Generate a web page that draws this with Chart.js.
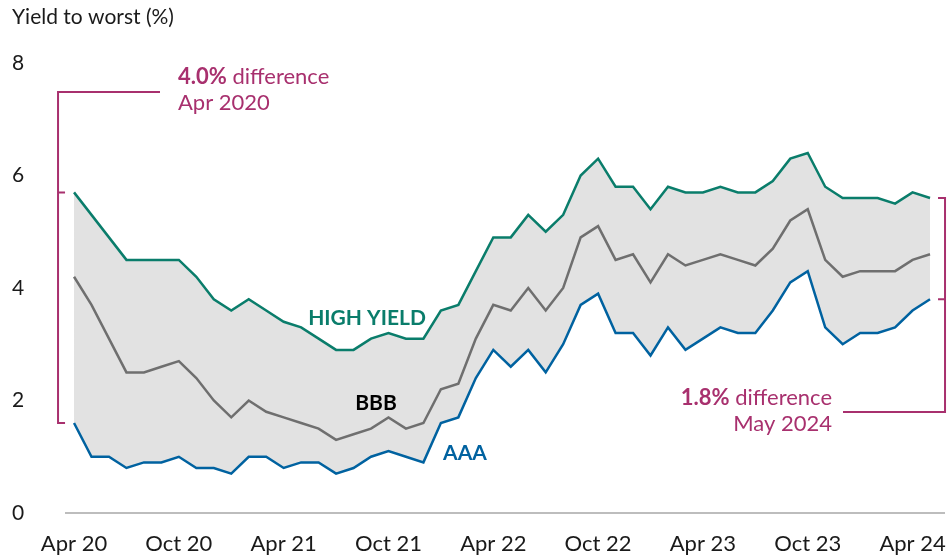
<!DOCTYPE html>
<html>
<head>
<meta charset="utf-8">
<script src="https://cdn.jsdelivr.net/npm/chart.js@4/dist/chart.umd.min.js"></script>
<style>
  html, body { margin: 0; padding: 0; background: #fff; }
  #wrap { width: 951px; height: 557px; position: relative; }
</style>
</head>
<body>
<div id="wrap"><canvas id="yieldChart"></canvas></div>
<script>
// Monthly observations, Apr 2020 - May 2024
const months = [
    'Apr 20', 'May 20', 'Jun 20', 'Jul 20', 'Aug 20', 'Sep 20', 'Oct 20', 'Nov 20', 'Dec 20',
    'Jan 21', 'Feb 21', 'Mar 21', 'Apr 21', 'May 21', 'Jun 21', 'Jul 21', 'Aug 21', 'Sep 21',
    'Oct 21', 'Nov 21', 'Dec 21', 'Jan 22', 'Feb 22', 'Mar 22', 'Apr 22', 'May 22', 'Jun 22',
    'Jul 22', 'Aug 22', 'Sep 22', 'Oct 22', 'Nov 22', 'Dec 22', 'Jan 23', 'Feb 23', 'Mar 23',
    'Apr 23', 'May 23', 'Jun 23', 'Jul 23', 'Aug 23', 'Sep 23', 'Oct 23', 'Nov 23', 'Dec 23',
    'Jan 24', 'Feb 24', 'Mar 24', 'Apr 24', 'May 24'
];

const highYield = [
    5.7, 5.3, 4.9, 4.5, 4.5, 4.5, 4.5, 4.2, 3.8, 3.6,
    3.8, 3.6, 3.4, 3.3, 3.1, 2.9, 2.9, 3.1, 3.2, 3.1,
    3.1, 3.6, 3.7, 4.3, 4.9, 4.9, 5.3, 5.0, 5.3, 6.0,
    6.3, 5.8, 5.8, 5.4, 5.8, 5.7, 5.7, 5.8, 5.7, 5.7,
    5.9, 6.3, 6.4, 5.8, 5.6, 5.6, 5.6, 5.5, 5.7, 5.6
];

const bbb = [
    4.2, 3.7, 3.1, 2.5, 2.5, 2.6, 2.7, 2.4, 2.0, 1.7,
    2.0, 1.8, 1.7, 1.6, 1.5, 1.3, 1.4, 1.5, 1.7, 1.5,
    1.6, 2.2, 2.3, 3.1, 3.7, 3.6, 4.0, 3.6, 4.0, 4.9,
    5.1, 4.5, 4.6, 4.1, 4.6, 4.4, 4.5, 4.6, 4.5, 4.4,
    4.7, 5.2, 5.4, 4.5, 4.2, 4.3, 4.3, 4.3, 4.5, 4.6
];

const aaa = [
    1.6, 1.0, 1.0, 0.8, 0.9, 0.9, 1.0, 0.8, 0.8, 0.7,
    1.0, 1.0, 0.8, 0.9, 0.9, 0.7, 0.8, 1.0, 1.1, 1.0,
    0.9, 1.6, 1.7, 2.4, 2.9, 2.6, 2.9, 2.5, 3.0, 3.7,
    3.9, 3.2, 3.2, 2.8, 3.3, 2.9, 3.1, 3.3, 3.2, 3.2,
    3.6, 4.1, 4.3, 3.3, 3.0, 3.2, 3.2, 3.3, 3.6, 3.8
];

const xTickLabels = ['Apr 20', 'Oct 20', 'Apr 21', 'Oct 21', 'Apr 22', 'Oct 22', 'Apr 23', 'Oct 23', 'Apr 24'];
const yTickValues = [0, 2, 4, 6, 8];

const TEAL = '#0a7d6b';
const GREY = '#6f6f6f';
const BLUE = '#0062a0';
const MAGENTA = '#a8306e';
const FONT = 'Lato, "Open Sans", sans-serif';

const toPoints = arr => arr.map((v, i) => ({ x: i, y: v }));

// brackets, difference notes and series names
const annotations = {
    id: 'annotations',
    afterDatasetsDraw(chart) {
        const { ctx, scales: { x, y } } = chart;
        const last = months.length - 1;
        ctx.save();
        ctx.strokeStyle = MAGENTA;
        ctx.lineWidth = 2;
        ctx.lineCap = 'butt';

        // left bracket (start of period)
        const lx = x.getPixelForValue(0) - 16;
        const hyStart = y.getPixelForValue(highYield[0]);
        const aaaStart = y.getPixelForValue(aaa[0]);
        ctx.beginPath();
        ctx.moveTo(160, 92);
        ctx.lineTo(lx, 92);
        ctx.lineTo(lx, aaaStart);
        ctx.lineTo(lx + 7, aaaStart);
        ctx.moveTo(lx, hyStart);
        ctx.lineTo(lx + 7, hyStart);
        ctx.stroke();

        // right bracket (end of period)
        const rx = x.getPixelForValue(last) + 15;
        const hyEnd = y.getPixelForValue(highYield[last]);
        const aaaEnd = y.getPixelForValue(aaa[last]);
        ctx.beginPath();
        ctx.moveTo(rx - 7, hyEnd);
        ctx.lineTo(rx, hyEnd);
        ctx.lineTo(rx, 412);
        ctx.lineTo(843, 412);
        ctx.moveTo(rx - 7, aaaEnd);
        ctx.lineTo(rx, aaaEnd);
        ctx.stroke();

        ctx.fillStyle = MAGENTA;
        ctx.textBaseline = 'middle';
        const endDiff = (highYield[last] - aaa[last]).toFixed(1) + '%';

        // left note
        ctx.textAlign = 'left';
        ctx.font = 'bold 22px ' + FONT;
        ctx.fillText('4.0%', 178, 77);
        const bw = ctx.measureText('4.0%').width;
        ctx.font = '22px ' + FONT;
        ctx.fillText(' difference', 178 + bw, 77);
        ctx.fillText('Apr 2020', 178, 103);

        // right note
        ctx.textAlign = 'right';
        ctx.font = '22px ' + FONT;
        ctx.fillText(' difference', 832, 398);
        const dw = ctx.measureText(' difference').width;
        ctx.font = 'bold 22px ' + FONT;
        ctx.fillText(endDiff, 832 - dw, 398);
        ctx.font = '22px ' + FONT;
        ctx.fillText('May 2024', 832, 424);

        // series names
        ctx.textAlign = 'center';
        ctx.font = 'bold 21px ' + FONT;
        ctx.fillStyle = TEAL;
        ctx.fillText('HIGH YIELD', 367, 318);
        ctx.fillStyle = '#000';
        ctx.fillText('BBB', 376, 403);
        ctx.fillStyle = BLUE;
        ctx.fillText('AAA', 465, 453);
        ctx.restore();
    }
};

const ctx = document.getElementById('yieldChart').getContext('2d');
new Chart(ctx, {
    type: 'line',
    data: {
        datasets: [
            {
                label: 'High yield',
                data: toPoints(highYield),
                borderColor: TEAL,
                borderWidth: 2.5,
                fill: { target: 2 },
                backgroundColor: '#e2e2e2',
                pointRadius: 0,
                tension: 0
            },
            {
                label: 'BBB',
                data: toPoints(bbb),
                borderColor: GREY,
                borderWidth: 2.5,
                fill: false,
                pointRadius: 0,
                tension: 0
            },
            {
                label: 'AAA',
                data: toPoints(aaa),
                borderColor: BLUE,
                borderWidth: 2.5,
                fill: false,
                pointRadius: 0,
                tension: 0
            }
        ]
    },
    options: {
        responsive: true,
        maintainAspectRatio: false,
        animation: false,
        layout: { padding: { left: 12, right: 7, top: 0, bottom: 0 } },
        plugins: {
            legend: { display: false },
            tooltip: { enabled: false },
            filler: { drawTime: 'beforeDatasetsDraw' },
            title: {
                display: true,
                text: 'Yield to worst (%)',
                align: 'start',
                color: '#1a1a1a',
                font: { family: FONT, size: 21, weight: 'normal' },
                padding: { top: 5, bottom: 32.8 }
            }
        },
        scales: {
            x: {
                type: 'linear',
                min: -0.46,
                max: 49.8,
                grid: { display: false, drawTicks: false },
                border: { display: true, color: '#bdbdbd', width: 2 },
                afterBuildTicks: scale => {
                    scale.ticks = xTickLabels.map(l => ({ value: months.indexOf(l) }));
                },
                afterFit: scale => {
                    scale.height = 44;
                    scale.paddingLeft = 0;
                    scale.paddingRight = 0;
                },
                ticks: {
                    autoSkip: false,
                    maxRotation: 0,
                    padding: 18,
                    color: '#1a1a1a',
                    font: { family: FONT, size: 22 },
                    callback: v => months[v]
                }
            },
            y: {
                min: 0,
                max: 8,
                grid: { display: false, drawTicks: false },
                border: { display: false },
                afterBuildTicks: scale => {
                    scale.ticks = yTickValues.map(v => ({ value: v }));
                },
                afterFit: scale => {
                    scale.width = 54;
                    scale.paddingTop = 0;
                    scale.paddingBottom = 0;
                },
                ticks: {
                    crossAlign: 'far',
                    padding: 0,
                    color: '#1a1a1a',
                    font: { family: FONT, size: 21 }
                }
            }
        }
    },
    plugins: [annotations]
});
</script>
</body>
</html>
